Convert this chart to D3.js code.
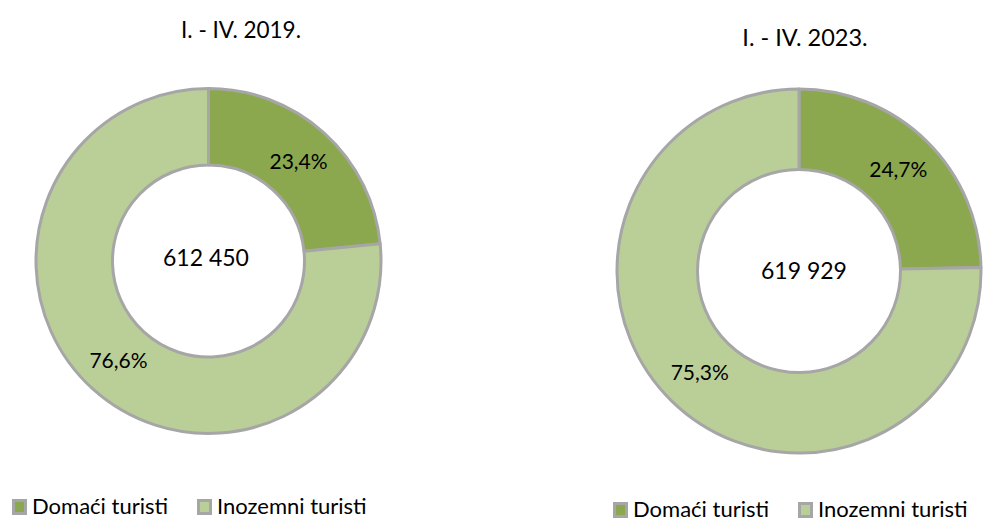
<!DOCTYPE html>
<html>
<head>
<meta charset="utf-8">
<script src="https://cdn.jsdelivr.net/npm/d3@7"></script>
<style>
  body { margin: 0; background: #fff; }
  text { font-family: Lato, "Open Sans", sans-serif; fill: #000; }
</style>
</head>
<body>
<div id="chart"></div>
<script>
// Data
const kategorije = ["Domaći turisti", "Inozemni turisti"];
const naslovi = ["I. - IV. 2019.", "I. - IV. 2023."];
const udjeli2019 = [23.4, 76.6];
const udjeli2023 = [24.7, 75.3];
const ukupno = [612450, 619929];
const boje = ["#8ba84f", "#bacf98"];

// Dimensi
const width = 983, height = 521;

const svg = d3.select("#chart")
  .append("svg")
  .attr("width", width)
  .attr("height", height);

// Pengaturan setiap donut
const donuts = [
  { naslov: naslovi[0], udjeli: udjeli2019, ukupno: ukupno[0], cx: 208.5, cy: 261, r: 172.5, r0: 96,
    tx: 241, ty: 38, tSize: 22.5, nx: -2.5, ny: -3.5, lx: 12, ly: 507 },
  { naslov: naslovi[1], udjeli: udjeli2023, ukupno: ukupno[1], cx: 799, cy: 271, r: 182, r0: 101.5,
    tx: 805, ty: 46, tSize: 23.5, nx: 5, ny: -0.5, lx: 613, ly: 510 }
];

const color = d3.scaleOrdinal().domain(kategorije).range(boje);
const fmtBroj = n => d3.format(",")(n).replace(/,/g, " ");
const fmtPosto = v => d3.format(".1f")(v).replace(".", ",") + "%";

const pie = d3.pie().sort(null).value(d => d.v);

donuts.forEach(function(cfg) {
  const data = kategorije.map((k, i) => ({ k: k, v: cfg.udjeli[i] }));
  const arc = d3.arc().innerRadius(cfg.r0).outerRadius(cfg.r);

  const g = svg.append("g")
    .attr("transform", "translate(" + cfg.cx + "," + cfg.cy + ")");

  g.selectAll("path")
    .data(pie(data))
    .join("path")
    .attr("d", arc)
    .attr("fill", d => color(d.data.k))
    .attr("stroke", "#a6a6a6")
    .attr("stroke-width", 3)
    .attr("stroke-linejoin", "round");

  // label postotka na sredini prstena
  g.selectAll("text.lbl")
    .data(pie(data))
    .join("text")
    .attr("class", "lbl")
    .attr("transform", d => "translate(" + arc.centroid(d) + ")")
    .attr("text-anchor", "middle")
    .attr("dy", "0.35em")
    .style("font-size", "21px")
    .text(d => fmtPosto(d.data.v));

  // ukupno u sredini
  g.append("text")
    .attr("x", cfg.nx)
    .attr("y", cfg.ny)
    .attr("text-anchor", "middle")
    .attr("dy", "0.35em")
    .style("font-size", "23px")
    .text(fmtBroj(cfg.ukupno));

  // naslov
  svg.append("text")
    .attr("x", cfg.tx)
    .attr("y", cfg.ty)
    .attr("text-anchor", "middle")
    .style("font-size", cfg.tSize + "px")
    .text(cfg.naslov);

  // legenda
  const leg = svg.append("g")
    .attr("transform", "translate(" + cfg.lx + "," + cfg.ly + ")");
  const item = leg.selectAll("g")
    .data(kategorije)
    .join("g")
    .attr("transform", (d, i) => "translate(" + (i * 185) + ",0)");
  item.append("rect")
    .attr("x", 1.5)
    .attr("y", -6.5)
    .attr("width", 12)
    .attr("height", 13)
    .attr("fill", d => color(d))
    .attr("stroke", "#a6a6a6")
    .attr("stroke-width", 3);
  item.append("text")
    .attr("x", 20)
    .attr("y", 7)
    .style("font-size", "22px")
    .text(d => d);
});
</script>
</body>
</html>
